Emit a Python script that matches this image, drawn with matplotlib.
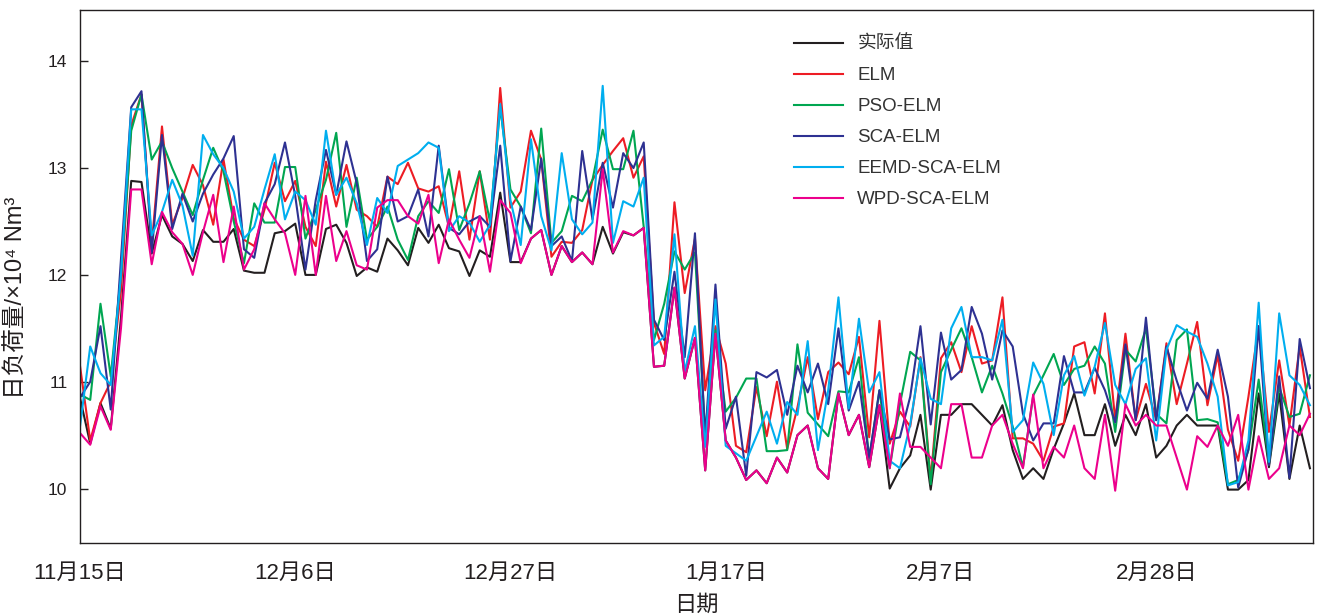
import matplotlib

matplotlib.use("Agg")
import matplotlib.pyplot as plt  # noqa: E402
import numpy as np  # noqa: E402

plt.rcParams["font.family"] = ["Liberation Sans", "Noto Sans CJK SC"]
plt.rcParams["axes.unicode_minus"] = False

# daily load, 11/15 .. 3/15 (121 days), unit 1e4 Nm^3
actual = [
    10.85, 10.42, 10.80, 10.56, 11.60, 12.88, 12.87, 12.20, 12.56, 12.36,
    12.29, 12.13, 12.42, 12.31, 12.31, 12.43, 12.04, 12.02, 12.02, 12.39,
    12.41, 12.48, 12.00, 12.00, 12.43, 12.47, 12.30, 11.99, 12.07, 12.03,
    12.34, 12.23, 12.09, 12.44, 12.30, 12.47, 12.25, 12.22, 11.99, 12.23,
    12.17, 12.77, 12.12, 12.12, 12.34, 12.42, 12.00, 12.27, 12.12, 12.21,
    12.10, 12.45, 12.20, 12.40, 12.37, 12.44, 11.14, 11.15, 11.88, 11.03,
    11.41, 10.17, 11.45, 10.45, 10.29, 10.08, 10.17, 10.05, 10.29, 10.15,
    10.50, 10.59, 10.19, 10.09, 10.89, 10.50, 10.69, 10.20, 10.78, 10.00,
    10.19, 10.31, 10.69, 9.99, 10.69, 10.69, 10.79, 10.79, 10.69, 10.59,
    10.78, 10.36, 10.09, 10.19, 10.09, 10.37, 10.61, 10.89, 10.50, 10.50,
    10.79, 10.40, 10.69, 10.50, 10.79, 10.29, 10.40, 10.59, 10.69, 10.59,
    10.59, 10.59, 9.99, 9.99, 10.08, 10.89, 10.20, 10.89, 10.09, 10.59,
    10.19,
]
elm = [
    11.15, 10.45, 10.80, 11.00, 11.85, 13.40, 13.69, 12.28, 13.39, 12.47,
    12.72, 13.03, 12.84, 12.47, 13.08, 12.53, 12.33, 12.27, 12.61, 13.05,
    12.69, 12.88, 12.45, 12.27, 13.06, 12.64, 13.03, 12.61, 12.55, 12.45,
    12.92, 12.85, 13.05, 12.81, 12.78, 12.83, 12.45, 12.97, 12.33, 12.97,
    12.33, 13.75, 12.63, 12.78, 13.35, 13.08, 12.17, 12.31, 12.30, 12.42,
    12.89, 13.03, 13.16, 13.28, 12.91, 13.11, 11.55, 11.26, 12.68, 11.83,
    12.34, 10.92, 11.52, 11.17, 10.40, 10.34, 10.95, 10.49, 11.00, 10.37,
    10.76, 11.23, 10.65, 11.09, 11.18, 11.07, 11.42, 10.48, 11.57, 10.42,
    10.72, 10.58, 11.23, 10.08, 11.22, 11.37, 11.09, 11.52, 11.17, 11.20,
    11.79, 10.47, 10.47, 10.42, 10.26, 10.58, 10.61, 11.33, 11.37, 10.89,
    11.64, 10.64, 11.45, 10.64, 10.98, 10.64, 11.36, 10.79, 11.17, 11.56,
    10.78, 11.25, 10.55, 10.26, 10.86, 11.52, 10.53, 11.20, 10.59, 11.33,
    10.67,
]
pso_elm = [
    10.88, 10.83, 11.73, 11.05, 12.00, 13.35, 13.69, 13.08, 13.25, 13.00,
    12.78, 12.56, 12.89, 13.19, 12.97, 12.50, 12.11, 12.67, 12.49, 12.49,
    13.01, 13.01, 12.34, 12.61, 12.89, 13.33, 12.45, 12.91, 12.33, 12.45,
    12.64, 12.33, 12.14, 12.55, 12.69, 12.58, 12.99, 12.42, 12.67, 12.97,
    12.50, 13.57, 12.80, 12.64, 12.39, 13.37, 12.30, 12.41, 12.74, 12.69,
    12.89, 13.36, 12.99, 12.99, 13.35, 12.45, 11.39, 11.73, 12.22, 12.05,
    12.21, 10.51, 11.48, 10.72, 10.85, 11.03, 11.03, 10.35, 10.35, 10.36,
    11.35, 10.71, 10.60, 10.49, 10.91, 10.90, 11.23, 10.28, 10.92, 10.19,
    10.79, 11.28, 11.20, 10.04, 11.09, 11.30, 11.50, 11.23, 10.90, 11.15,
    10.89, 10.58, 10.20, 10.87, 11.06, 11.26, 10.97, 11.12, 11.15, 11.33,
    11.17, 10.53, 11.30, 11.19, 11.50, 10.70, 10.61, 11.39, 11.49, 10.64,
    10.65, 10.62, 10.04, 10.08, 10.36, 11.02, 10.23, 10.95, 10.67, 10.70,
    11.06,
]
sca_elm = [
    10.85, 11.00, 11.52, 10.74, 12.15, 13.57, 13.72, 12.21, 13.31, 12.43,
    12.76, 12.50, 12.76, 12.94, 13.09, 13.30, 12.24, 12.16, 12.67, 12.85,
    13.24, 12.74, 12.05, 12.70, 13.17, 12.75, 13.25, 12.86, 12.13, 12.24,
    12.92, 12.50, 12.55, 12.80, 12.36, 13.21, 12.44, 12.38, 12.50, 12.55,
    12.45, 13.21, 12.13, 12.64, 12.42, 13.09, 12.27, 12.36, 12.13, 13.16,
    12.52, 13.05, 12.63, 13.14, 13.00, 13.24, 11.58, 11.39, 12.03, 11.23,
    12.39, 10.48, 11.91, 10.56, 10.86, 10.12, 11.09, 11.04, 11.11, 10.69,
    11.15, 10.90, 11.17, 10.79, 11.50, 10.73, 11.00, 10.29, 10.92, 10.46,
    10.48, 10.86, 11.52, 10.60, 11.46, 11.02, 11.11, 11.70, 11.45, 11.02,
    11.48, 11.33, 10.70, 10.45, 10.61, 10.61, 11.24, 10.90, 10.90, 11.13,
    10.92, 10.62, 11.35, 10.64, 11.60, 10.64, 11.33, 11.01, 10.73, 10.99,
    10.84, 11.30, 10.86, 10.01, 10.37, 11.52, 10.22, 11.05, 10.10, 11.40,
    10.94,
]
eemd_sca_elm = [
    10.58, 11.33, 11.08, 10.97, 12.00, 13.55, 13.55, 12.37, 12.59, 12.89,
    12.65, 12.18, 13.31, 13.13, 13.00, 12.78, 12.34, 12.45, 12.80, 13.13,
    12.52, 12.78, 12.70, 12.47, 13.35, 12.75, 12.91, 12.67, 12.28, 12.72,
    12.58, 13.02, 13.08, 13.14, 13.24, 13.19, 12.41, 12.55, 12.49, 12.31,
    12.47, 13.60, 12.70, 12.28, 13.27, 12.55, 12.23, 13.14, 12.52, 12.38,
    12.49, 13.77, 12.30, 12.69, 12.64, 12.91, 11.34, 11.42, 12.38, 11.09,
    11.52, 10.39, 11.77, 10.40, 10.33, 10.26, 10.49, 10.72, 10.42, 10.81,
    10.69, 11.38, 10.36, 10.92, 11.79, 10.75, 11.59, 10.90, 11.09, 10.26,
    10.19, 10.60, 11.22, 10.84, 10.79, 11.50, 11.70, 11.23, 11.23, 11.20,
    11.58, 10.53, 10.64, 11.18, 10.98, 10.50, 11.06, 11.24, 10.87, 11.14,
    11.55, 10.97, 10.79, 11.12, 11.22, 10.45, 11.30, 11.53, 11.47, 11.42,
    11.17, 10.86, 10.03, 10.06, 10.45, 11.74, 10.25, 11.64, 11.06, 10.97,
    10.78,
]
wpd_sca_elm = [
    10.52, 10.41, 10.77, 10.55, 11.50, 12.80, 12.80, 12.10, 12.59, 12.40,
    12.29, 12.00, 12.40, 12.75, 12.12, 12.64, 12.05, 12.24, 12.67, 12.52,
    12.39, 12.00, 12.74, 12.00, 12.74, 12.13, 12.41, 12.09, 12.05, 12.63,
    12.70, 12.70, 12.55, 12.48, 12.75, 12.11, 12.52, 12.33, 12.16, 12.55,
    12.03, 12.70, 12.58, 12.11, 12.34, 12.42, 12.00, 12.27, 12.12, 12.21,
    12.10, 12.99, 12.21, 12.41, 12.37, 12.44, 11.14, 11.15, 11.88, 11.03,
    11.41, 10.17, 11.45, 10.45, 10.29, 10.08, 10.17, 10.05, 10.29, 10.15,
    10.50, 10.59, 10.19, 10.09, 10.89, 10.50, 10.69, 10.20, 10.78, 10.19,
    10.89, 10.39, 10.39, 10.29, 10.19, 10.79, 10.79, 10.29, 10.29, 10.59,
    10.69, 10.42, 10.19, 10.88, 10.19, 10.39, 10.29, 10.59, 10.19, 10.09,
    10.69, 9.98, 10.79, 10.59, 10.69, 10.59, 10.59, 10.29, 9.99, 10.49,
    10.39, 10.59, 10.40, 10.69, 9.99, 10.49, 10.09, 10.19, 10.59, 10.50,
    10.70,
]

tick_days = [0, 21, 42, 63, 84, 105]
tick_labels = ["11月15日", "12月6日", "12月27日", "1月17日", "2月7日", "2月28日"]

series = [
    ("实际值", actual, "#231f20"),
    ("ELM", elm, "#ed1c24"),
    ("PSO-ELM", pso_elm, "#00a651"),
    ("SCA-ELM", sca_elm, "#2e3192"),
    ("EEMD-SCA-ELM", eemd_sca_elm, "#00aeef"),
    ("WPD-SCA-ELM", wpd_sca_elm, "#ec008c"),
]

text_color = "#231f20"
fig = plt.figure(figsize=(13.22, 6.14), dpi=100)
ax = fig.add_axes([0.0605, 0.1156, 0.9327, 0.8681])

days = np.arange(len(actual))
for name, values, color in series:
    ax.plot(days, values, color=color, lw=1.5, label=name)

ax.set_xlim(0, 120.3)
ax.set_ylim(9.49, 14.48)
ax.set_xticks(tick_days)
ax.set_xticklabels(tick_labels, fontsize=16, color=text_color)
ax.set_yticks([10, 11, 12, 13, 14])
ax.tick_params(axis="y", direction="in", length=6, width=1, pad=9,
               labelsize=12.5, labelcolor=text_color, color=text_color)
ax.tick_params(axis="x", length=0, pad=14)
for sp in ax.spines.values():
    sp.set_color(text_color)
    sp.set_linewidth(1.0)

ax.set_xlabel("日期", fontsize=16, color=text_color, labelpad=8)
ax.set_ylabel("日负荷量/×10⁴ Nm³", fontsize=17, color=text_color)
ax.yaxis.set_label_coords(-0.043, 0.46)

leg = ax.legend(loc="upper left", bbox_to_anchor=(0.565, 0.983), frameon=False,
                fontsize=13.5, handlelength=2.65, handletextpad=0.75,
                labelspacing=0.74)
for t in leg.get_texts():
    t.set_color("#333333")

fig.savefig("out.png", dpi=100)
